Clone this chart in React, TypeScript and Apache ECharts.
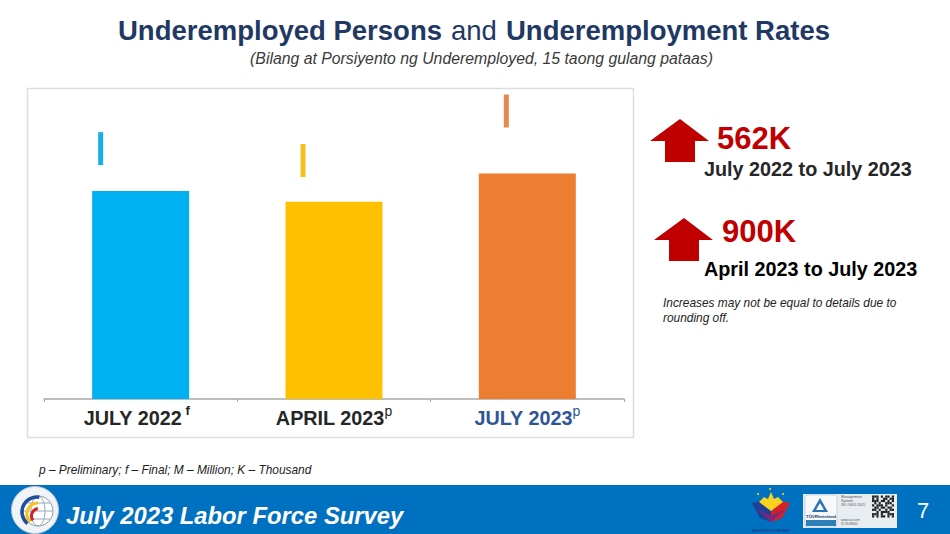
import React, { useEffect, useRef } from "react";
import * as echarts from "echarts";

const categories = ["JULY 2022", "APRIL 2023", "JULY 2023"];
const superscripts = ["f", "p", "p"];
const personsMillions = [6.69, 6.34, 7.25];
const ratePercent = [16.1, 15.34, 18.52];
const barColors = ["#00B0F0", "#FFC000", "#ED7D31"];
const markerColors = ["#19AEE8", "#F4BE22", "#E58A4C"];
const markerOffsets = [-40, -31, -21];

const FONT = "'Liberation Sans', Arial, sans-serif";

const txt = (x: number, y: number, text: string, fontSize: number, fill: string, extra: any = {}) => ({
  type: "text",
  x,
  y,
  silent: true,
  style: { text, fontSize, fill, fontFamily: FONT, verticalAlign: "middle", ...extra },
});

const arrow = (cx: number, top: number) => ({
  type: "polygon",
  silent: true,
  shape: {
    points: [
      [cx, top],
      [cx + 29, top + 22],
      [cx + 15, top + 22],
      [cx + 15, top + 43],
      [cx - 15, top + 43],
      [cx - 15, top + 22],
      [cx - 30, top + 22],
    ],
  },
  style: { fill: "#C00000" },
});

const line = (x1: number, y1: number, x2: number, y2: number, stroke: string, lineWidth = 1) => ({
  type: "line",
  silent: true,
  shape: { x1, y1, x2, y2 },
  style: { stroke, lineWidth },
});

const qrCells = [
  "1110101101", "1010011011", "1110110101", "0101001110", "1011101001",
  "0110110110", "1101001011", "0010111100", "1110100111", "1010110101",
];

const backgroundGraphics: any[] = [
  { type: "rect", silent: true, z: -10, shape: { x: 27.5, y: 88.5, width: 606, height: 349 }, style: { fill: "#fff", stroke: "#DDDDDD", lineWidth: 1.5 } },
];

const overlayGraphics: any[] = [
  txt(118, 30, "Underemployed Persons", 27.5, "#1F3864", { fontWeight: "bold" }),
  txt(451, 30, "and", 27.5, "#1F3864"),
  txt(506, 30, "Underemployment Rates", 27.5, "#1F3864", { fontWeight: "bold" }),
  txt(481.5, 58, "(Bilang at Porsiyento ng Underemployed, 15 taong gulang pataas)", 15.8, "#3A3A3A", { fontStyle: "italic", align: "center" }),
  arrow(680, 119),
  arrow(684, 218),
  txt(717, 138, "562K", 31, "#C00000", { fontWeight: "bold" }),
  txt(722, 231, "900K", 31, "#C00000", { fontWeight: "bold" }),
  txt(704, 169, "July 2022 to July 2023", 19.8, "#262626", { fontWeight: "bold" }),
  txt(704, 269, "April 2023 to July 2023", 19.8, "#000000", { fontWeight: "bold" }),
  txt(663, 303, "Increases may not be equal to details due to", 11.9, "#222", { fontStyle: "italic" }),
  txt(663, 318, "rounding off.", 11.9, "#222", { fontStyle: "italic" }),
  txt(39, 470, "p – Preliminary; f – Final; M – Million; K – Thousand", 11.9, "#222", { fontStyle: "italic" }),
  { type: "rect", silent: true, shape: { x: 0, y: 485, width: 950, height: 49 }, style: { fill: "#0070C0" } },
  txt(66, 515, "July 2023 Labor Force Survey", 23.8, "#FFFFFF", { fontWeight: "bold", fontStyle: "italic" }),
  txt(917, 510, "7", 22, "#FFFFFF"),
  // PSA seal
  { type: "circle", silent: true, shape: { cx: 35, cy: 510, r: 23.5 }, style: { fill: "#F1F4F7", stroke: "#B9C6D6", lineWidth: 1 } },
  { type: "circle", silent: true, shape: { cx: 38, cy: 511, r: 15 }, style: { fill: "#FFFFFF", stroke: "#8C9AAB", lineWidth: 1 } },
  { type: "ellipse", silent: true, shape: { cx: 38, cy: 511, rx: 7, ry: 15 }, style: { fill: "none", stroke: "#9AA7B6", lineWidth: 1 } },
  line(23, 511, 53, 511, "#9AA7B6"),
  line(26, 503, 50, 503, "#9AA7B6"),
  line(26, 519, 50, 519, "#9AA7B6"),
  { type: "arc", silent: true, shape: { cx: 37, cy: 512, r: 15, startAngle: Math.PI * 0.72, endAngle: Math.PI * 1.55 }, style: { fill: "none", stroke: "#1F4E9E", lineWidth: 3.5 } },
  { type: "arc", silent: true, shape: { cx: 38, cy: 514, r: 11, startAngle: Math.PI * 0.75, endAngle: Math.PI * 1.5 }, style: { fill: "none", stroke: "#F3C316", lineWidth: 3 } },
  { type: "arc", silent: true, shape: { cx: 39, cy: 516, r: 7.5, startAngle: Math.PI * 0.8, endAngle: Math.PI * 1.45 }, style: { fill: "none", stroke: "#D42027", lineWidth: 3 } },
  // Bagong Pilipinas logo
  { type: "polygon", silent: true, shape: { points: [[752, 503], [762, 501], [771, 512], [771, 522], [760, 518]] }, style: { fill: "#1E3F94" } },
  { type: "polygon", silent: true, shape: { points: [[790, 503], [780, 501], [771, 512], [771, 522], [782, 518]] }, style: { fill: "#D4202A" } },
  { type: "polygon", silent: true, shape: { points: [[757, 509], [771, 522], [785, 509], [771, 516]] }, style: { fill: "#7A2A7E" } },
  { type: "polygon", silent: true, shape: { points: [[759, 502], [764, 497], [768, 499], [771, 492], [774, 499], [778, 497], [783, 502], [771, 511]] }, style: { fill: "#F7D21E" } },
  { type: "circle", silent: true, shape: { cx: 758, cy: 494, r: 1 }, style: { fill: "#F7D21E" } },
  { type: "circle", silent: true, shape: { cx: 770, cy: 489, r: 1 }, style: { fill: "#F7D21E" } },
  { type: "circle", silent: true, shape: { cx: 783, cy: 494, r: 1 }, style: { fill: "#F7D21E" } },
  txt(771, 530, "BAGONG PILIPINAS", 4, "#1B3F8F", { fontWeight: "bold", align: "center" }),
  // Certification block
  { type: "rect", silent: true, shape: { x: 803, y: 494, width: 94, height: 34 }, style: { fill: "#E8EDF1" } },
  { type: "rect", silent: true, shape: { x: 805, y: 495, width: 32, height: 32, r: 3 }, style: { fill: "#F6F8FA", stroke: "#9FB2C4", lineWidth: 0.5 } },
  { type: "rect", silent: true, shape: { x: 806, y: 520, width: 30, height: 6 }, style: { fill: "#2E7FB8" } },
  { type: "polygon", silent: true, shape: { points: [[820, 498], [828, 512], [812, 512]] }, style: { fill: "#2C73B5" } },
  { type: "polygon", silent: true, shape: { points: [[820, 503], [824, 510], [816, 510]] }, style: { fill: "#F6F8FA" } },
  txt(821, 516, "TÜVRheinland", 4.4, "#1A3C6E", { fontWeight: "bold", align: "center" }),
  txt(841, 497, "Management", 3.6, "#555"),
  txt(841, 501, "System", 3.6, "#555"),
  txt(841, 505, "ISO 9001:2015", 3.6, "#555"),
  txt(841, 520, "www.tuv.com", 3.2, "#555"),
  txt(841, 524, "ID 9108640", 3.2, "#555"),
  ...qrCells.flatMap((row, r) =>
    row.split("").flatMap((c, k) =>
      c === "1"
        ? [{ type: "rect", silent: true, shape: { x: 872 + k * 2.2, y: 495.5 + r * 2.2, width: 2.2, height: 2.2 }, style: { fill: "#222" } }]
        : []
    )
  ),
];

export default function App() {
  const ref = useRef<HTMLDivElement>(null);

  useEffect(() => {
    document.body.style.margin = "0";
    document.body.style.background = "#fff";
    const chart = echarts.init(ref.current!, undefined, { renderer: "svg" });
    chart.setOption({
      animation: false,
      backgroundColor: "#fff",
      textStyle: { fontFamily: FONT },
      grid: { left: 44, right: 326, top: 88, bottom: 135, containLabel: false },
      xAxis: {
        type: "category",
        data: categories,
        axisLine: { lineStyle: { color: "#A8A8A8", width: 1.5 } },
        axisTick: { show: true, length: 3, interval: 0, lineStyle: { color: "#A8A8A8" } },
        axisLabel: {
          margin: 5,
          interval: 0,
          formatter: (value: string, i: number) =>
            `{${i === 2 ? "blue" : "main"}|${value}}{${i === 2 ? "supBlue" : i === 0 ? "supFirst" : "sup"}|${i === 0 ? " " : ""}${superscripts[i]}}`,
          rich: {
            main: { fontSize: 19.8, fontWeight: "bold", color: "#262626", fontFamily: FONT, lineHeight: 24, verticalAlign: "bottom" },
            blue: { fontSize: 19.8, fontWeight: "bold", color: "#2F5597", fontFamily: FONT, lineHeight: 24, verticalAlign: "bottom" },
            sup: { fontSize: 14, color: "#262626", verticalAlign: "top", lineHeight: 14, fontFamily: FONT },
            supFirst: { fontSize: 13, fontWeight: "bold", color: "#262626", verticalAlign: "top", lineHeight: 14, fontFamily: FONT, padding: [0, 8, 0, 0] },
            supBlue: { fontSize: 14, color: "#2F5597", verticalAlign: "top", lineHeight: 14, fontFamily: FONT },
          },
        },
      },
      yAxis: [
        { type: "value", min: 0, max: 10, show: false, splitLine: { show: false } },
        { type: "value", min: 0, max: 20, show: false, splitLine: { show: false } },
      ],
      series: [
        {
          type: "bar",
          name: "Underemployed Persons",
          barWidth: 97,
          data: personsMillions.map((value, i) => ({ value, itemStyle: { color: barColors[i] } })),
        },
        {
          type: "scatter",
          name: "Underemployment Rate",
          yAxisIndex: 1,
          symbol: "rect",
          symbolSize: [5, 33],
          data: ratePercent.map((value, i) => ({
            value,
            symbolOffset: [markerOffsets[i], 0],
            itemStyle: { color: markerColors[i], opacity: 1 },
          })),
        },
      ],
      graphic: { elements: [...backgroundGraphics, ...overlayGraphics] },
    });
    return () => chart.dispose();
  }, []);

  return <div ref={ref} style={{ position: "fixed", left: 0, top: 0, width: 950, height: 534 }} />;
}
